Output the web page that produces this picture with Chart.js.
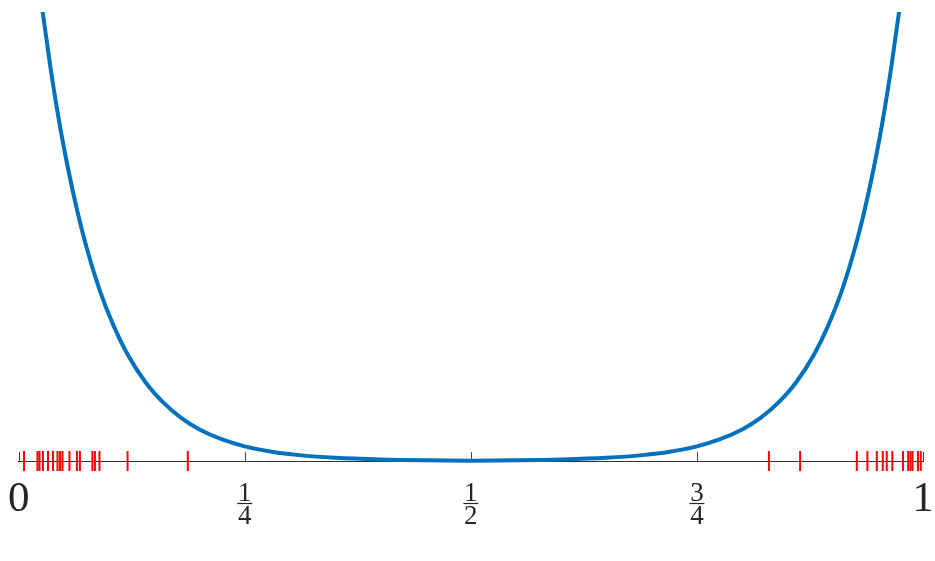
<!DOCTYPE html>
<html>
<head>
<meta charset="utf-8">
<script src="https://cdn.jsdelivr.net/npm/chart.js@4"></script>
<style>
  html, body { margin: 0; padding: 0; background: #fff; }
  canvas { display: block; }
</style>
</head>
<body>
<canvas id="chart" width="935" height="561"></canvas>
<script>
// curve (x in [0,1], height relative to the top of the plot)
const curveX = [0.022, 0.0265, 0.035, 0.045, 0.055, 0.065, 0.075, 0.09, 0.105, 0.12,
    0.14, 0.16, 0.18, 0.20, 0.225, 0.25, 0.28, 0.31, 0.35, 0.40, 0.45, 0.50,
    0.55, 0.60, 0.65, 0.69, 0.72, 0.75, 0.775, 0.80, 0.82, 0.84, 0.86, 0.88,
    0.895, 0.91, 0.925, 0.935, 0.945, 0.955, 0.965, 0.9735, 0.978];
const curveY = [1.071, 1.000, 0.878, 0.753, 0.647, 0.555, 0.476, 0.378, 0.301, 0.239,
    0.176, 0.130, 0.0955, 0.0703, 0.048, 0.0327, 0.0207, 0.0131, 0.0071, 0.0033, 0.0015, 0.0007,
    0.0015, 0.0033, 0.0071, 0.0131, 0.0207, 0.0327, 0.048, 0.0703, 0.0955, 0.130, 0.176, 0.239,
    0.301, 0.378, 0.476, 0.555, 0.647, 0.753, 0.878, 1.000, 1.071];

// rug marks along the axis
const rugX = [0.0059, 0.0208, 0.0230, 0.0268, 0.0324, 0.0379, 0.0429, 0.0456, 0.0484, 0.0561,
    0.0644, 0.0677, 0.0815, 0.0843, 0.0893, 0.1204, 0.1870,
    0.8296, 0.8641, 0.9268, 0.9385, 0.9489, 0.9555, 0.9599, 0.9661, 0.9779,
    0.9836, 0.9862, 0.9884, 0.9944, 0.9975];

const tickVals = [0, 0.25, 0.5, 0.75, 1];
const tickLabels = [['0'], ['1', '4'], ['1', '2'], ['3', '4'], ['1']];

const serif = '"Liberation Serif", "DejaVu Serif", serif';
const textColor = '#262626';

// inward tick marks + stacked fraction labels
const axisDecor = {
    id: 'axisDecor',
    beforeDatasetsDraw(chart) {
        const sx = chart.scales.x;
        const yb = chart.chartArea.bottom;
        const c = chart.ctx;
        c.save();
        c.strokeStyle = '#444';
        c.lineWidth = 1;
        tickVals.forEach(v => {
            const px = Math.round(sx.getPixelForValue(v)) + 0.5;
            c.beginPath();
            c.moveTo(px, yb);
            c.lineTo(px, yb - 9);
            c.stroke();
        });
        c.restore();
    },
    afterDraw(chart) {
        const sx = chart.scales.x;
        const yb = chart.chartArea.bottom;
        const c = chart.ctx;
        c.save();
        c.fillStyle = textColor;
        c.strokeStyle = textColor;
        c.textAlign = 'center';
        c.textBaseline = 'alphabetic';
        tickVals.forEach((v, i) => {
            const px = sx.getPixelForValue(v);
            const lab = tickLabels[i];
            if (lab.length === 1) {
                c.font = '43px ' + serif;
                c.fillText(lab[0], px, yb + 50);
            } else {
                c.font = '27px ' + serif;
                c.fillText(lab[0], px, yb + 39.5);
                c.lineWidth = 1.2;
                c.beginPath();
                c.moveTo(px - 7.5, yb + 42.5);
                c.lineTo(px + 7.5, yb + 42.5);
                c.stroke();
                c.fillText(lab[1], px, yb + 63);
            }
        });
        c.restore();
    }
};

const ctx = document.getElementById('chart').getContext('2d');
new Chart(ctx, {
    type: 'scatter',
    data: {
        datasets: [
            {
                label: 'rug',
                data: rugX.map(x => ({ x: x, y: 0 })),
                showLine: false,
                pointStyle: 'line',
                rotation: 90,
                radius: 10,
                hoverRadius: 10,
                borderColor: '#ff0000',
                borderWidth: 2,
                clip: false,
                order: 2
            },
            {
                label: 'curve',
                data: curveX.map((x, i) => ({ x: x, y: curveY[i] })),
                showLine: true,
                borderColor: '#0072bd',
                borderWidth: 4,
                pointRadius: 0,
                cubicInterpolationMode: 'monotone',
                clip: { left: false, right: false, top: 0, bottom: false },
                order: 1
            }
        ]
    },
    options: {
        responsive: false,
        animation: false,
        layout: { padding: { left: 18.7, right: 11, top: 10, bottom: 100 } },
        plugins: { legend: { display: false }, tooltip: { enabled: false } },
        scales: {
            x: {
                type: 'linear',
                min: 0,
                max: 1,
                grid: { drawOnChartArea: false, drawTicks: false },
                border: { display: true, color: '#333', width: 1 },
                ticks: { display: false }
            },
            y: {
                display: false,
                min: 0,
                max: 1
            }
        }
    },
    plugins: [axisDecor]
});
</script>
</body>
</html>
